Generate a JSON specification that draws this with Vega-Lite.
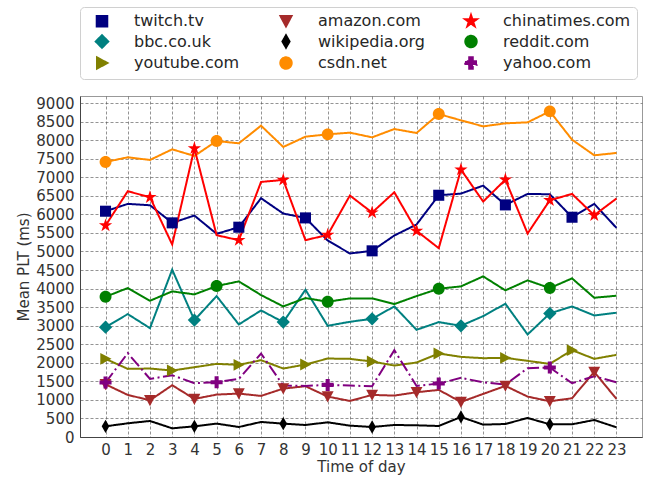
{
  "$schema": "https://vega.github.io/schema/vega-lite/v6.json",
  "width": 562,
  "height": 341,
  "autosize": {"type": "none"},
  "padding": {"left": 80, "top": 96, "right": 3, "bottom": 40},
  "background": "white",
  "config": {
    "font": "DejaVu Sans",
    "view": {"stroke": "#999", "strokeWidth": 1},
    "legend": {"labelFontSize": 16}
  },
  "data": {"values": [
    {"s":"twitch.tv","x":0,"v":6085},{"s":"twitch.tv","x":1,"v":6282},{"s":"twitch.tv","x":2,"v":6246},{"s":"twitch.tv","x":3,"v":5771},{"s":"twitch.tv","x":4,"v":5968},{"s":"twitch.tv","x":5,"v":5475},{"s":"twitch.tv","x":6,"v":5654},{"s":"twitch.tv","x":7,"v":6435},{"s":"twitch.tv","x":8,"v":6022},{"s":"twitch.tv","x":9,"v":5905},{"s":"twitch.tv","x":10,"v":5295},{"s":"twitch.tv","x":11,"v":4946},{"s":"twitch.tv","x":12,"v":5017},{"s":"twitch.tv","x":13,"v":5430},{"s":"twitch.tv","x":14,"v":5726},{"s":"twitch.tv","x":15,"v":6515},{"s":"twitch.tv","x":16,"v":6560},{"s":"twitch.tv","x":17,"v":6775},{"s":"twitch.tv","x":18,"v":6255},{"s":"twitch.tv","x":19,"v":6551},{"s":"twitch.tv","x":20,"v":6542},{"s":"twitch.tv","x":21,"v":5923},{"s":"twitch.tv","x":22,"v":6282},{"s":"twitch.tv","x":23,"v":5636},
    {"s":"bbc.co.uk","x":0,"v":2961},{"s":"bbc.co.uk","x":1,"v":3312},{"s":"bbc.co.uk","x":2,"v":2934},{"s":"bbc.co.uk","x":3,"v":4509},{"s":"bbc.co.uk","x":4,"v":3150},{"s":"bbc.co.uk","x":5,"v":3798},{"s":"bbc.co.uk","x":6,"v":3033},{"s":"bbc.co.uk","x":7,"v":3411},{"s":"bbc.co.uk","x":8,"v":3096},{"s":"bbc.co.uk","x":9,"v":3969},{"s":"bbc.co.uk","x":10,"v":2997},{"s":"bbc.co.uk","x":11,"v":3105},{"s":"bbc.co.uk","x":12,"v":3186},{"s":"bbc.co.uk","x":13,"v":3519},{"s":"bbc.co.uk","x":14,"v":2889},{"s":"bbc.co.uk","x":15,"v":3096},{"s":"bbc.co.uk","x":16,"v":2997},{"s":"bbc.co.uk","x":17,"v":3258},{"s":"bbc.co.uk","x":18,"v":3591},{"s":"bbc.co.uk","x":19,"v":2763},{"s":"bbc.co.uk","x":20,"v":3330},{"s":"bbc.co.uk","x":21,"v":3519},{"s":"bbc.co.uk","x":22,"v":3276},{"s":"bbc.co.uk","x":23,"v":3348},
    {"s":"youtube.com","x":0,"v":2106},{"s":"youtube.com","x":1,"v":1836},{"s":"youtube.com","x":2,"v":1845},{"s":"youtube.com","x":3,"v":1791},{"s":"youtube.com","x":4,"v":1881},{"s":"youtube.com","x":5,"v":1971},{"s":"youtube.com","x":6,"v":1944},{"s":"youtube.com","x":7,"v":2070},{"s":"youtube.com","x":8,"v":1845},{"s":"youtube.com","x":9,"v":1953},{"s":"youtube.com","x":10,"v":2115},{"s":"youtube.com","x":11,"v":2106},{"s":"youtube.com","x":12,"v":2034},{"s":"youtube.com","x":13,"v":1926},{"s":"youtube.com","x":14,"v":2007},{"s":"youtube.com","x":15,"v":2250},{"s":"youtube.com","x":16,"v":2160},{"s":"youtube.com","x":17,"v":2124},{"s":"youtube.com","x":18,"v":2133},{"s":"youtube.com","x":19,"v":2052},{"s":"youtube.com","x":20,"v":1971},{"s":"youtube.com","x":21,"v":2340},{"s":"youtube.com","x":22,"v":2106},{"s":"youtube.com","x":23,"v":2214},
    {"s":"amazon.com","x":0,"v":1420},{"s":"amazon.com","x":1,"v":1134},{"s":"amazon.com","x":2,"v":990},{"s":"amazon.com","x":3,"v":1395},{"s":"amazon.com","x":4,"v":1026},{"s":"amazon.com","x":5,"v":1143},{"s":"amazon.com","x":6,"v":1170},{"s":"amazon.com","x":7,"v":1107},{"s":"amazon.com","x":8,"v":1305},{"s":"amazon.com","x":9,"v":1368},{"s":"amazon.com","x":10,"v":1089},{"s":"amazon.com","x":11,"v":972},{"s":"amazon.com","x":12,"v":1134},{"s":"amazon.com","x":13,"v":1116},{"s":"amazon.com","x":14,"v":1206},{"s":"amazon.com","x":15,"v":1269},{"s":"amazon.com","x":16,"v":945},{"s":"amazon.com","x":17,"v":1161},{"s":"amazon.com","x":18,"v":1377},{"s":"amazon.com","x":19,"v":1089},{"s":"amazon.com","x":20,"v":963},{"s":"amazon.com","x":21,"v":1044},{"s":"amazon.com","x":22,"v":1755},{"s":"amazon.com","x":23,"v":1026},
    {"s":"wikipedia.org","x":0,"v":288},{"s":"wikipedia.org","x":1,"v":369},{"s":"wikipedia.org","x":2,"v":432},{"s":"wikipedia.org","x":3,"v":234},{"s":"wikipedia.org","x":4,"v":288},{"s":"wikipedia.org","x":5,"v":360},{"s":"wikipedia.org","x":6,"v":270},{"s":"wikipedia.org","x":7,"v":405},{"s":"wikipedia.org","x":8,"v":360},{"s":"wikipedia.org","x":9,"v":324},{"s":"wikipedia.org","x":10,"v":396},{"s":"wikipedia.org","x":11,"v":306},{"s":"wikipedia.org","x":12,"v":270},{"s":"wikipedia.org","x":13,"v":324},{"s":"wikipedia.org","x":14,"v":315},{"s":"wikipedia.org","x":15,"v":297},{"s":"wikipedia.org","x":16,"v":540},{"s":"wikipedia.org","x":17,"v":333},{"s":"wikipedia.org","x":18,"v":351},{"s":"wikipedia.org","x":19,"v":513},{"s":"wikipedia.org","x":20,"v":342},{"s":"wikipedia.org","x":21,"v":342},{"s":"wikipedia.org","x":22,"v":459},{"s":"wikipedia.org","x":23,"v":261},
    {"s":"csdn.net","x":0,"v":7412},{"s":"csdn.net","x":1,"v":7538},{"s":"csdn.net","x":2,"v":7466},{"s":"csdn.net","x":3,"v":7753},{"s":"csdn.net","x":4,"v":7574},{"s":"csdn.net","x":5,"v":7977},{"s":"csdn.net","x":6,"v":7915},{"s":"csdn.net","x":7,"v":8390},{"s":"csdn.net","x":8,"v":7816},{"s":"csdn.net","x":9,"v":8094},{"s":"csdn.net","x":10,"v":8157},{"s":"csdn.net","x":11,"v":8202},{"s":"csdn.net","x":12,"v":8076},{"s":"csdn.net","x":13,"v":8300},{"s":"csdn.net","x":14,"v":8193},{"s":"csdn.net","x":15,"v":8704},{"s":"csdn.net","x":16,"v":8534},{"s":"csdn.net","x":17,"v":8372},{"s":"csdn.net","x":18,"v":8453},{"s":"csdn.net","x":19,"v":8480},{"s":"csdn.net","x":20,"v":8776},{"s":"csdn.net","x":21,"v":8013},{"s":"csdn.net","x":22,"v":7592},{"s":"csdn.net","x":23,"v":7655},
    {"s":"chinatimes.com","x":0,"v":5699},{"s":"chinatimes.com","x":1,"v":6623},{"s":"chinatimes.com","x":2,"v":6462},{"s":"chinatimes.com","x":3,"v":5188},{"s":"chinatimes.com","x":4,"v":7780},{"s":"chinatimes.com","x":5,"v":5439},{"s":"chinatimes.com","x":6,"v":5304},{"s":"chinatimes.com","x":7,"v":6874},{"s":"chinatimes.com","x":8,"v":6928},{"s":"chinatimes.com","x":9,"v":5304},{"s":"chinatimes.com","x":10,"v":5448},{"s":"chinatimes.com","x":11,"v":6507},{"s":"chinatimes.com","x":12,"v":6049},{"s":"chinatimes.com","x":13,"v":6596},{"s":"chinatimes.com","x":14,"v":5556},{"s":"chinatimes.com","x":15,"v":5089},{"s":"chinatimes.com","x":16,"v":7206},{"s":"chinatimes.com","x":17,"v":6345},{"s":"chinatimes.com","x":18,"v":6937},{"s":"chinatimes.com","x":19,"v":5484},{"s":"chinatimes.com","x":20,"v":6381},{"s":"chinatimes.com","x":21,"v":6551},{"s":"chinatimes.com","x":22,"v":5977},{"s":"chinatimes.com","x":23,"v":6426},
    {"s":"reddit.com","x":0,"v":3780},{"s":"reddit.com","x":1,"v":4014},{"s":"reddit.com","x":2,"v":3672},{"s":"reddit.com","x":3,"v":3924},{"s":"reddit.com","x":4,"v":3843},{"s":"reddit.com","x":5,"v":4068},{"s":"reddit.com","x":6,"v":4194},{"s":"reddit.com","x":7,"v":3825},{"s":"reddit.com","x":8,"v":3519},{"s":"reddit.com","x":9,"v":3744},{"s":"reddit.com","x":10,"v":3645},{"s":"reddit.com","x":11,"v":3735},{"s":"reddit.com","x":12,"v":3735},{"s":"reddit.com","x":13,"v":3582},{"s":"reddit.com","x":14,"v":3798},{"s":"reddit.com","x":15,"v":3996},{"s":"reddit.com","x":16,"v":4059},{"s":"reddit.com","x":17,"v":4329},{"s":"reddit.com","x":18,"v":3951},{"s":"reddit.com","x":19,"v":4221},{"s":"reddit.com","x":20,"v":4014},{"s":"reddit.com","x":21,"v":4275},{"s":"reddit.com","x":22,"v":3753},{"s":"reddit.com","x":23,"v":3807},
    {"s":"yahoo.com","x":0,"v":1467},{"s":"yahoo.com","x":1,"v":2259},{"s":"yahoo.com","x":2,"v":1566},{"s":"yahoo.com","x":3,"v":1665},{"s":"yahoo.com","x":4,"v":1449},{"s":"yahoo.com","x":5,"v":1476},{"s":"yahoo.com","x":6,"v":1566},{"s":"yahoo.com","x":7,"v":2250},{"s":"yahoo.com","x":8,"v":1386},{"s":"yahoo.com","x":9,"v":1377},{"s":"yahoo.com","x":10,"v":1404},{"s":"yahoo.com","x":11,"v":1386},{"s":"yahoo.com","x":12,"v":1368},{"s":"yahoo.com","x":13,"v":2340},{"s":"yahoo.com","x":14,"v":1377},{"s":"yahoo.com","x":15,"v":1440},{"s":"yahoo.com","x":16,"v":1593},{"s":"yahoo.com","x":17,"v":1476},{"s":"yahoo.com","x":18,"v":1413},{"s":"yahoo.com","x":19,"v":1854},{"s":"yahoo.com","x":20,"v":1872},{"s":"yahoo.com","x":21,"v":1449},{"s":"yahoo.com","x":22,"v":1638},{"s":"yahoo.com","x":23,"v":1476}
  ]},
  "encoding": {
    "x": {"field": "x", "type": "quantitative",
      "scale": {"domain": [-1.15, 24.15], "nice": false, "zero": false},
      "axis": {"values": [0,1,2,3,4,5,6,7,8,9,10,11,12,13,14,15,16,17,18,19,20,21,22,23], "format": "d",
        "labelFont": "DejaVu Sans", "labelFontSize": 15, "labelColor": "#333", "labelPadding": 5, "labelFlush": false,
        "title": "Time of day", "titleFont": "DejaVu Sans", "titleFontSize": 15, "titleFontWeight": "normal", "titleColor": "#333", "titlePadding": 2,
        "ticks": false, "grid": true, "gridColor": "#555", "gridDash": [3, 2], "gridWidth": 0.7, "gridOpacity": 0.9,
        "domainColor": "#444", "domainWidth": 1}},
    "y": {"field": "v", "type": "quantitative",
      "scale": {"domain": [0, 9190], "nice": false},
      "axis": {"values": [0,500,1000,1500,2000,2500,3000,3500,4000,4500,5000,5500,6000,6500,7000,7500,8000,8500,9000], "format": "d",
        "labelFont": "DejaVu Sans", "labelFontSize": 15, "labelColor": "#333", "labelPadding": 6, "labelFlush": false,
        "title": "Mean PLT (ms)", "titleFont": "DejaVu Sans", "titleFontSize": 15, "titleFontWeight": "normal", "titleColor": "#333", "titlePadding": 4,
        "ticks": false, "grid": true, "gridColor": "#555", "gridDash": [3, 2], "gridWidth": 0.7, "gridOpacity": 0.9,
        "domainColor": "#444", "domainWidth": 1}},
    "color": {"field": "s", "type": "nominal",
      "scale": {"domain": ["twitch.tv","amazon.com","chinatimes.com","bbc.co.uk","wikipedia.org","reddit.com","youtube.com","csdn.net","yahoo.com"],
                "range": ["#000080","#a52a2a","#ff0000","#008080","#000000","#008000","#808000","#ff8c00","#800080"]},
      "legend": {"title": null, "orient": "top", "offset": 17, "columns": 3, "columnPadding": 30, "rowPadding": 1.5,
                 "labelFontSize": 16, "labelFont": "DejaVu Sans", "labelColor": "#262626", "labelOffset": 24, "labelLimit": 300,
                 "symbolSize": 196, "symbolOffset": 8, "padding": 6,
                 "fillColor": "white", "strokeColor": "#d0d0d0", "cornerRadius": 4}}
  },
  "layer": [
    {
      "mark": {"type": "line", "strokeWidth": 2},
      "encoding": {
        "strokeDash": {"field": "s", "type": "nominal", "legend": null,
          "scale": {"domain": ["twitch.tv","amazon.com","chinatimes.com","bbc.co.uk","wikipedia.org","reddit.com","youtube.com","csdn.net","yahoo.com"],
                    "range": [[1,0],[1,0],[1,0],[1,0],[1,0],[1,0],[1,0],[1,0],[12,3.5,2,3.5]]}}
      }
    },
    {
      "transform": [{"filter": "((datum.s === 'twitch.tv' || datum.s === 'youtube.com') && datum.x % 3 === 0) || ((datum.s === 'chinatimes.com' || datum.s === 'amazon.com') && datum.x % 2 === 0) || ((datum.s === 'bbc.co.uk' || datum.s === 'wikipedia.org') && datum.x % 4 === 0) || ((datum.s === 'csdn.net' || datum.s === 'reddit.com' || datum.s === 'yahoo.com') && datum.x % 5 === 0)"}],
      "mark": {"type": "point", "filled": true, "opacity": 1, "size": 196},
      "encoding": {
        "shape": {"field": "s", "type": "nominal",
          "scale": {"domain": ["twitch.tv","amazon.com","chinatimes.com","bbc.co.uk","wikipedia.org","reddit.com","youtube.com","csdn.net","yahoo.com"],
                    "range": [
                      "M-0.79,-0.79H0.79V0.79H-0.79Z",
                      "M-0.85,-0.75L0.85,-0.75L0,0.85Z",
                      "M0,-1L0.225,-0.309L0.951,-0.309L0.363,0.118L0.588,0.809L0,0.382L-0.588,0.809L-0.363,0.118L-0.951,-0.309L-0.225,-0.309Z",
                      "M0,-0.95L0.95,0L0,0.95L-0.95,0Z",
                      "M0,-0.95L0.55,0L0,0.95L-0.55,0Z",
                      "M0.85,0A0.85,0.85,0,1,1,-0.85,0A0.85,0.85,0,1,1,0.85,0Z",
                      "M-0.75,-0.85L0.85,0L-0.75,0.85Z",
                      "M0.85,0A0.85,0.85,0,1,1,-0.85,0A0.85,0.85,0,1,1,0.85,0Z",
                      "M-0.29,-0.86H0.29V-0.29H0.86V0.29H0.29V0.86H-0.29V0.29H-0.86V-0.29H-0.29Z"
                    ]},
          "legend": {"title": null, "orient": "top", "offset": 17, "columns": 3, "columnPadding": 30, "rowPadding": 1.5,
                     "labelFontSize": 16, "labelFont": "DejaVu Sans", "labelColor": "#262626", "labelOffset": 24, "labelLimit": 300,
                     "symbolSize": 196, "symbolOffset": 8, "padding": 6,
                     "fillColor": "white", "strokeColor": "#d0d0d0", "cornerRadius": 4}}
      }
    }
  ]
}
